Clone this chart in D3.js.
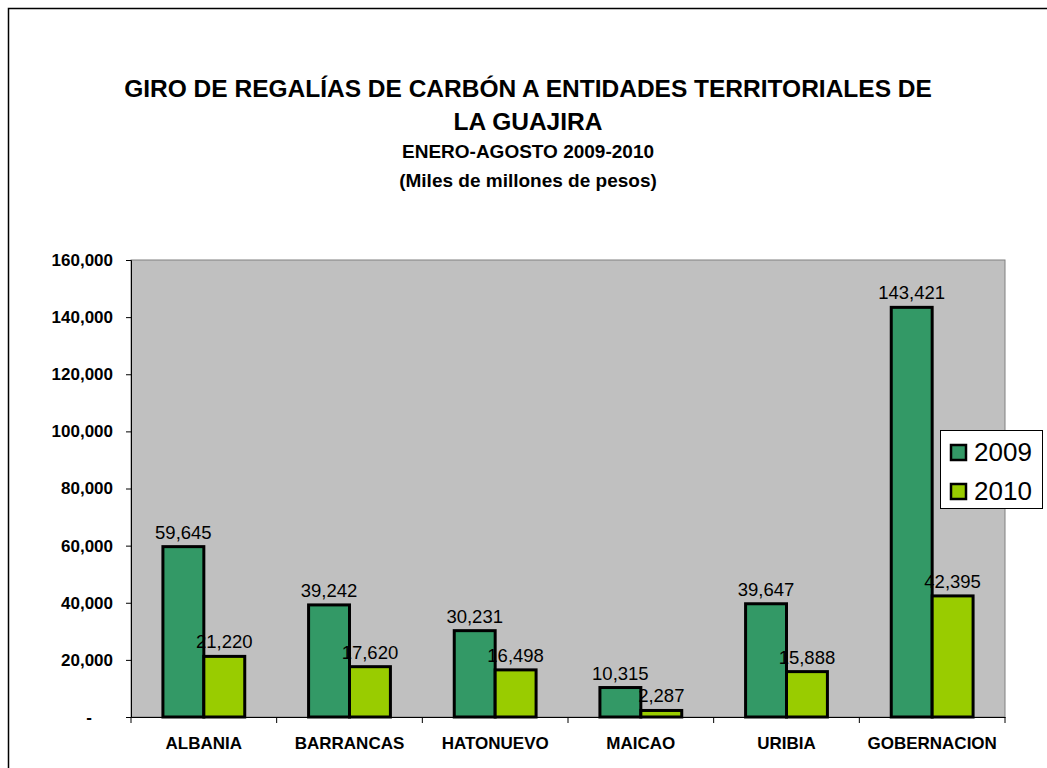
<!DOCTYPE html>
<html>
<head>
<meta charset="utf-8">
<script src="https://cdn.jsdelivr.net/npm/d3@7"></script>
<style>
  body { margin: 0; background: #fff; }
  text { font-family: "Liberation Sans", Arial, sans-serif; }
</style>
</head>
<body>
<div id="chart"></div>
<script>
const categories = ["ALBANIA", "BARRANCAS", "HATONUEVO", "MAICAO", "URIBIA", "GOBERNACION"];
const series = ["2009", "2010"];
const values2009 = [59645, 39242, 30231, 10315, 39647, 143421];
const values2010 = [21220, 17620, 16498, 2287, 15888, 42395];
const yTicks = [0, 20000, 40000, 60000, 80000, 100000, 120000, 140000, 160000];
const colors = ["#339966", "#99cc00"];

const width = 1047;
const height = 768;
const plot = { left: 131, right: 1005, top: 260, bottom: 717 };

const svg = d3.select("#chart")
  .append("svg")
  .attr("width", width)
  .attr("height", height);

// chart border
svg.append("rect")
  .attr("x", 8.5).attr("y", 8.5)
  .attr("width", 1060).attr("height", 800)
  .attr("fill", "#fff")
  .attr("stroke", "#000")
  .attr("stroke-width", 1.5);

// titles
const titles = [
  { t: "GIRO DE REGALÍAS DE CARBÓN A ENTIDADES TERRITORIALES DE", y: 97, s: 24.5 },
  { t: "LA GUAJIRA", y: 130, s: 24.5 },
  { t: "ENERO-AGOSTO 2009-2010", y: 158, s: 19 },
  { t: "(Miles de millones de pesos)", y: 187, s: 19 }
];
svg.selectAll("text.title")
  .data(titles)
  .enter()
  .append("text")
  .attr("class", "title")
  .attr("x", 528)
  .attr("y", (d) => d.y)
  .attr("text-anchor", "middle")
  .attr("font-weight", "bold")
  .attr("font-size", (d) => d.s)
  .text((d) => d.t);

const x0 = d3.scaleBand()
  .domain(categories)
  .range([plot.left, plot.right]);

const x1 = d3.scaleBand()
  .domain(series)
  .range([0, x0.bandwidth()])
  .paddingOuter(0.78)
  .paddingInner(0);

const y = d3.scaleLinear()
  .domain([0, 160000])
  .range([plot.bottom, plot.top]);

// plot area
svg.append("rect")
  .attr("x", plot.left)
  .attr("y", plot.top)
  .attr("width", plot.right - plot.left)
  .attr("height", plot.bottom - plot.top)
  .attr("fill", "#c0c0c0")
  .attr("stroke", "#808080")
  .attr("stroke-width", 1);

const fmt = d3.format(",");

// y axis
const yAxis = svg.append("g")
  .attr("transform", `translate(${plot.left},0)`)
  .call(d3.axisLeft(y).tickValues(yTicks).tickSize(5).tickPadding(13)
    .tickFormat((d) => (d === 0 ? "-" : fmt(d))));
yAxis.select(".domain").attr("stroke", "#000");
yAxis.selectAll(".tick line").attr("stroke", "#000");
yAxis.selectAll("text")
  .attr("font-size", 17)
  .attr("font-weight", "bold")
  .attr("fill", "#000");
// accounting style dash sits further left
yAxis.selectAll(".tick text")
  .filter((d) => d === 0)
  .attr("dx", -21);

// x axis
const xAxis = svg.append("g")
  .attr("transform", `translate(0,${plot.bottom})`)
  .call(d3.axisBottom(x0).tickSize(0).tickPadding(20));
xAxis.select(".domain").attr("stroke", "#000");
xAxis.selectAll("text")
  .attr("font-size", 17)
  .attr("font-weight", "bold")
  .attr("fill", "#000");
svg.append("g")
  .selectAll("line")
  .data(d3.range(categories.length + 1))
  .enter()
  .append("line")
  .attr("x1", (i) => plot.left + i * x0.step())
  .attr("x2", (i) => plot.left + i * x0.step())
  .attr("y1", plot.bottom)
  .attr("y2", plot.bottom + 6)
  .attr("stroke", "#000");

const rows = categories.map((c, i) => ({
  cat: c,
  vals: [
    { s: "2009", v: values2009[i], c: colors[0] },
    { s: "2010", v: values2010[i], c: colors[1] }
  ]
}));

const groups = svg.append("g")
  .selectAll("g")
  .data(rows)
  .enter()
  .append("g")
  .attr("transform", (d) => `translate(${x0(d.cat)},0)`);

groups.selectAll("rect")
  .data((d) => d.vals)
  .enter()
  .append("rect")
  .attr("x", (d) => x1(d.s))
  .attr("y", (d) => y(d.v))
  .attr("width", x1.bandwidth())
  .attr("height", (d) => y(0) - y(d.v))
  .attr("fill", (d) => d.c)
  .attr("stroke", "#000")
  .attr("stroke-width", 3);

groups.selectAll("text")
  .data((d) => d.vals)
  .enter()
  .append("text")
  .attr("x", (d) => x1(d.s) + x1.bandwidth() / 2)
  .attr("y", (d) => y(d.v) - 8)
  .attr("text-anchor", "middle")
  .attr("font-size", 18.5)
  .attr("fill", "#000")
  .text((d) => fmt(d.v));

// legend
const legend = svg.append("g").attr("transform", "translate(940,430)");
legend.append("rect")
  .attr("x", 0.5).attr("y", 0.5)
  .attr("width", 102).attr("height", 78)
  .attr("fill", "#fff")
  .attr("stroke", "#000")
  .attr("stroke-width", 1);
const items = legend.selectAll("g")
  .data(series)
  .enter()
  .append("g")
  .attr("transform", (d, i) => `translate(0,${22 + i * 39})`);
items.append("rect")
  .attr("x", 11).attr("y", -7)
  .attr("width", 15).attr("height", 15)
  .attr("fill", (d, i) => colors[i])
  .attr("stroke", "#000")
  .attr("stroke-width", 2.5);
items.append("text")
  .attr("x", 34)
  .attr("y", 9)
  .attr("font-size", 26)
  .attr("fill", "#000")
  .text((d) => d);
</script>
</body>
</html>
